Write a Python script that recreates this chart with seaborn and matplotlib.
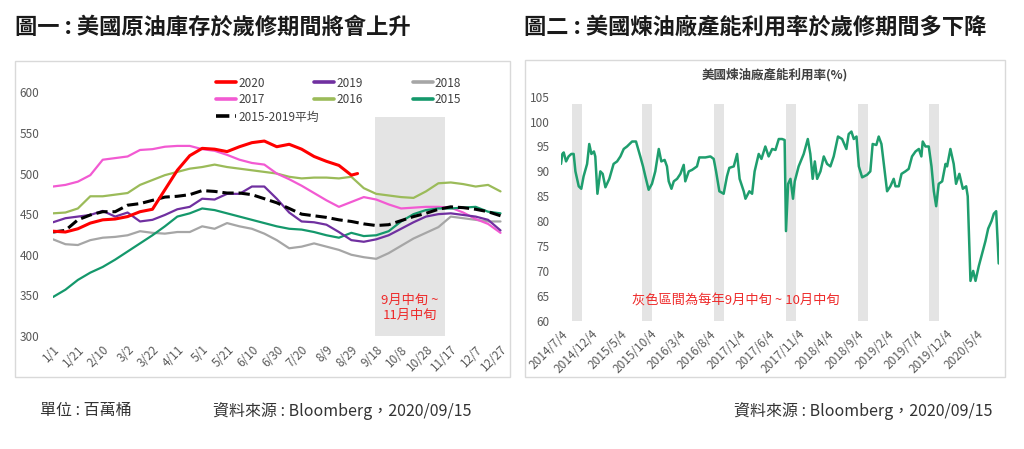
import pandas as pd
import matplotlib.pyplot as plt
import seaborn as sns
from matplotlib.patches import Rectangle
from matplotlib.lines import Line2D

sns.set_theme(style='white')
plt.rcParams['font.family'] = ['Noto Sans CJK TC', 'DejaVu Sans']

# 圖一 資料 (每 10 天讀一次, 單位: 百萬桶)
days = list(range(0, 361, 10))
inv_2020_days = list(range(0, 241, 10)) + [245]
inv_2020 = [429, 428, 432, 439, 443, 444, 447, 453, 456, 480, 504, 522, 531, 530, 527,
            533, 538, 540, 533, 536, 530, 521, 515, 510, 498, 500]
inv_2019 = [440, 445, 447, 449, 454, 447, 452, 441, 443, 449, 456, 459, 469, 468, 475,
            475, 484, 484, 469, 452, 441, 440, 437, 428, 418, 416, 419, 424, 432, 440,
            447, 450, 451, 449, 447, 443, 430]
inv_2018 = [419, 413, 412, 418, 421, 422, 424, 429, 427, 426, 428, 428, 435, 432, 439,
            435, 432, 426, 418, 408, 410, 414, 410, 406, 400, 397, 395, 402, 411, 420,
            427, 434, 447, 445, 443, 441, 441]
inv_2017 = [484, 486, 490, 498, 517, 519, 521, 529, 530, 533, 534, 534, 530, 528, 523,
            517, 513, 511, 500, 493, 485, 476, 467, 459, 465, 471, 468, 462, 457, 458,
            459, 459, 458, 452, 444, 438, 427]
inv_2016 = [451, 452, 457, 472, 472, 474, 476, 486, 492, 498, 502, 506, 508, 511, 508,
            506, 504, 502, 500, 496, 494, 495, 495, 494, 496, 482, 475, 473, 471, 470,
            478, 488, 489, 487, 484, 486, 478]
inv_2015 = [348, 357, 369, 378, 385, 394, 404, 414, 424, 435, 447, 451, 457, 455, 451,
            447, 443, 439, 435, 432, 431, 428, 424, 421, 427, 423, 424, 429, 441, 450,
            455, 457, 457, 458, 459, 453, 451]
inv_avg = [428, 430, 443, 449, 453, 453, 461, 463, 467, 471, 472, 474, 479, 478, 476,
           476, 474, 469, 464, 457, 450, 448, 446, 443, 441, 438, 436, 437, 442, 447,
           451, 456, 459, 458, 456, 453, 448]
x_labels = ['1/1', '1/21', '2/10', '3/2', '3/22', '4/11', '5/1', '5/21', '6/10', '6/30',
            '7/20', '8/9', '8/29', '9/18', '10/8', '10/28', '11/17', '12/7', '12/27']
shade_start, shade_end, shade_top = 259, 315, 569

# 圖二 資料 (煉油廠產能利用率 %)
util_dates = [
    '2014-07-04', '2014-07-11', '2014-07-18', '2014-07-30', '2014-08-12', '2014-08-26',
    '2014-09-07', '2014-09-16', '2014-10-03', '2014-10-16', '2014-10-28', '2014-11-15',
    '2014-11-26', '2014-12-07', '2014-12-20', '2014-12-27', '2015-01-07', '2015-01-22',
    '2015-02-03', '2015-02-17', '2015-03-09', '2015-03-31', '2015-04-18', '2015-05-05',
    '2015-05-22', '2015-06-08', '2015-07-04', '2015-07-24', '2015-08-15', '2015-08-29',
    '2015-09-10', '2015-09-27', '2015-10-14', '2015-10-31', '2015-11-18', '2015-12-01',
    '2015-12-18', '2015-12-30', '2016-01-08', '2016-01-22', '2016-02-03', '2016-02-20',
    '2016-03-08', '2016-03-25', '2016-04-02', '2016-04-20', '2016-05-07', '2016-06-01',
    '2016-06-13', '2016-07-14', '2016-08-09', '2016-08-26', '2016-09-07', '2016-09-24',
    '2016-10-16', '2016-11-02', '2016-11-14', '2016-12-07', '2016-12-24', '2017-01-06',
    '2017-01-27', '2017-02-05', '2017-02-25', '2017-03-11', '2017-03-24', '2017-04-14',
    '2017-04-28', '2017-05-18', '2017-06-04', '2017-06-22', '2017-07-09', '2017-07-26',
    '2017-08-12', '2017-08-25', '2017-09-01', '2017-09-12', '2017-09-24', '2017-10-07',
    '2017-10-16', '2017-11-05', '2017-12-01', '2017-12-22', '2018-01-04', '2018-01-16',
    '2018-01-27', '2018-02-08', '2018-02-25', '2018-03-14', '2018-03-31', '2018-04-17',
    '2018-05-04', '2018-05-26', '2018-06-16', '2018-07-08', '2018-07-20', '2018-08-03',
    '2018-08-15', '2018-08-29', '2018-09-10', '2018-09-27', '2018-10-22', '2018-11-08',
    '2018-11-20', '2018-12-09', '2018-12-21', '2019-01-04', '2019-01-19', '2019-02-02',
    '2019-02-19', '2019-03-08', '2019-03-17', '2019-04-03', '2019-04-17', '2019-05-07',
    '2019-05-24', '2019-06-10', '2019-06-28', '2019-07-15', '2019-07-28', '2019-08-04',
    '2019-08-18', '2019-09-04', '2019-09-18', '2019-09-30', '2019-10-12', '2019-10-25',
    '2019-11-12', '2019-11-29', '2019-12-07', '2019-12-24', '2020-01-10', '2020-01-22',
    '2020-02-08', '2020-02-26', '2020-03-14', '2020-03-22', '2020-04-05', '2020-04-19',
    '2020-05-01', '2020-05-18', '2020-06-04', '2020-06-21', '2020-07-05', '2020-07-22',
    '2020-08-03', '2020-08-15', '2020-08-28']
util_values = [
    91.5, 93.5, 93.8, 92.0, 93.0, 93.5, 93.5, 90.0, 87.0, 86.5, 89.0, 91.5,
    95.5, 93.5, 94.0, 93.0, 85.5, 90.0, 89.5, 86.8, 88.5, 91.5, 92.0, 93.0,
    94.5, 95.0, 96.0, 96.0, 93.0, 91.0, 89.0, 86.3, 87.5, 90.0, 94.5, 92.0,
    92.3, 91.0, 88.0, 86.5, 88.0, 88.5, 89.5, 91.3, 88.0, 90.0, 90.3, 91.0,
    92.8, 92.8, 93.0, 92.5, 90.0, 86.0, 85.5, 89.0, 90.7, 91.0, 93.5, 88.5,
    86.0, 84.5, 86.0, 85.5, 90.0, 93.5, 92.5, 95.0, 93.0, 94.5, 94.3, 96.5,
    96.5, 96.3, 78.0, 87.5, 88.5, 84.5, 88.0, 91.0, 93.5, 96.5, 93.5, 88.5,
    92.0, 88.5, 90.0, 93.0, 91.5, 91.0, 93.0, 97.0, 96.5, 94.5, 97.5, 98.0,
    96.5, 97.0, 91.0, 88.8, 89.3, 90.0, 95.5, 95.3, 97.0, 95.5, 90.5, 86.0,
    87.0, 88.5, 87.0, 87.0, 89.5, 90.0, 90.5, 93.0, 94.0, 94.5, 93.0, 96.0,
    95.0, 95.0, 91.0, 86.0, 83.0, 87.5, 88.0, 91.5, 91.0, 94.5, 91.5, 87.5,
    89.5, 86.5, 87.0, 85.0, 68.0, 70.0, 68.0, 71.0, 73.5, 76.0, 78.5, 80.0,
    81.5, 82.0, 71.5]
band_starts = ['2014-08-27', '2015-08-24', '2016-08-29', '2017-09-01', '2018-09-05', '2019-09-07']
band_ends = ['2014-10-18', '2015-10-15', '2016-10-20', '2017-10-23', '2018-10-27', '2019-10-29']
band_top = 103.5
util_ticks = ['2014/7/4', '2014/12/4', '2015/5/4', '2015/10/4', '2016/3/4', '2016/8/4',
              '2017/1/4', '2017/6/4', '2017/11/4', '2018/4/4', '2018/9/4', '2019/2/4',
              '2019/7/4', '2019/12/4', '2020/5/4']

W, H = 1024, 449
fig = plt.figure(figsize=(W / 100, H / 100), dpi=100)
fig.patch.set_facecolor('white')

def px(x0, y0, x1, y1):
    # 像素框 -> figure 座標
    return [x0 / W, 1 - y1 / H, (x1 - x0) / W, (y1 - y0) / H]

tick_color = '#595959'

# 外框
for x0, y0, x1, y1 in [(15, 61, 510, 377), (525, 60, 1005, 377)]:
    fig.patches.append(Rectangle((x0 / W, 1 - y1 / H), (x1 - x0) / W, (y1 - y0) / H,
                                 transform=fig.transFigure, fill=False,
                                 edgecolor='#d9d9d9', linewidth=1.0))

# 標題
fig.text(15 / W, 1 - 27 / H, '圖一 : 美國原油庫存於歲修期間將會上升', fontsize=16,
         fontweight='bold', va='center', ha='left', color='#1a1a1a')
fig.text(524 / W, 1 - 27 / H, '圖二 : 美國煉油廠產能利用率於歲修期間多下降', fontsize=16,
         fontweight='bold', va='center', ha='left', color='#1a1a1a')

# ---- 圖一 ----
ax1 = fig.add_axes(px(53, 92.3, 503, 336))
ax1.fill_between([shade_start, shade_end], 300, shade_top, color='#e4e4e4', lw=0, zorder=0)

series = [
    ('2018', days, inv_2018, '#a6a6a6', 1.6, '-'),
    ('2016', days, inv_2016, '#9bbb59', 1.6, '-'),
    ('2017', days, inv_2017, '#f25ad2', 1.6, '-'),
    ('2015', days, inv_2015, '#14986b', 1.6, '-'),
    ('2019', days, inv_2019, '#7030a0', 1.6, '-'),
    ('2015-2019平均', days, inv_avg, 'black', 2.2, '--'),
    ('2020', inv_2020_days, inv_2020, '#ff0000', 2.2, '-'),
]
handles = {}
for name, xs, ys, color, lw, ls in series:
    df = pd.DataFrame({'day': xs, 'value': ys})
    sns.lineplot(data=df, x='day', y='value', ax=ax1, color=color, linewidth=lw,
                 linestyle=ls, legend=False)
    handles[name] = Line2D([], [], color=color, lw=2.6, ls=ls)

ax1.set_xlim(0, 362)
ax1.set_ylim(300, 600)
ax1.set_yticks(range(300, 601, 50))
ax1.set_xticks(range(0, 361, 20))
ax1.set_xticklabels(x_labels, rotation=45, ha='right', rotation_mode='anchor')
ax1.set_xlabel('')
ax1.set_ylabel('')
ax1.tick_params(axis='both', labelsize=8.5, colors=tick_color, length=0)
ax1.tick_params(axis='x', pad=5)
ax1.tick_params(axis='y', pad=10)
for s in ax1.spines.values():
    s.set_visible(False)
ax1.set_facecolor('none')
ax1.text((shade_start + shade_end) / 2, 334, '9月中旬 ~\n11月中旬', color='#ee2a2a',
         fontsize=9.5, ha='center', va='center', linespacing=1.2)

# 圖例 (按欄排列: 2020/2017, 2019/2016, 2018/2015)
order1 = ['2020', '2017', '2019', '2016', '2018', '2015']
leg1 = ax1.legend([handles[k] for k in order1], order1, ncol=3, frameon=False,
                  fontsize=8.5, handlelength=1.7, handletextpad=0.2, columnspacing=4.2,
                  labelspacing=0.3, loc='upper left', bbox_to_anchor=(205 / W, 1 - 66 / H),
                  bbox_transform=fig.transFigure, labelcolor='#404040')
ax1.add_artist(leg1)
ax1.legend([handles['2015-2019平均']], ['2015-2019平均'], frameon=False, fontsize=8.5,
           handlelength=1.7, handletextpad=0.2, loc='upper left',
           bbox_to_anchor=(205 / W, 1 - 100 / H), bbox_transform=fig.transFigure,
           labelcolor='#404040')

# ---- 圖二 ----
ax2 = fig.add_axes(px(561, 96.7, 998.7, 320.7))
for b0, b1 in zip(pd.to_datetime(band_starts), pd.to_datetime(band_ends)):
    ax2.fill_between([b0, b1], 60, band_top, color='#e4e4e4', lw=0, zorder=0)
util = pd.DataFrame({'date': pd.to_datetime(util_dates), 'value': util_values})
sns.lineplot(data=util, x='date', y='value', ax=ax2, color='#1f9e6e', linewidth=1.8)
ax2.set_xlim(pd.Timestamp('2014-07-04'), pd.Timestamp('2020-08-28'))
ax2.set_ylim(60, 105)
ax2.set_yticks(range(60, 106, 5))
tick_dates = pd.to_datetime(util_ticks, format='%Y/%m/%d')
ax2.set_xticks(tick_dates)
ax2.set_xticklabels(util_ticks, rotation=45, ha='right', rotation_mode='anchor')
ax2.set_xlabel('')
ax2.set_ylabel('')
ax2.tick_params(axis='both', labelsize=8.5, colors=tick_color, length=0)
ax2.tick_params(axis='x', pad=5)
ax2.tick_params(axis='y', pad=8)
for s in ax2.spines.values():
    s.set_visible(False)
ax2.set_facecolor('none')
ax2.text(pd.Timestamp('2016-12-19'), 64, '灰色區間為每年9月中旬 ~ 10月中旬', color='#ee2a2a',
         fontsize=9.5, ha='center', va='center')
fig.text(775 / W, 1 - 75 / H, '美國煉油廠產能利用率(%)', fontsize=9, ha='center',
         va='center', color='#404040', fontweight='bold')

# 資料來源
fig.text(40 / W, 1 - 411 / H, '單位 : 百萬桶', fontsize=11.5, va='center', color='#333333')
fig.text(213 / W, 1 - 411 / H, '資料來源 : Bloomberg，2020/09/15', fontsize=11.5,
         va='center', color='#333333')
fig.text(993 / W, 1 - 411 / H, '資料來源 : Bloomberg，2020/09/15', fontsize=11.5,
         va='center', ha='right', color='#333333')

fig.savefig('out.png', dpi=100, facecolor='white')
